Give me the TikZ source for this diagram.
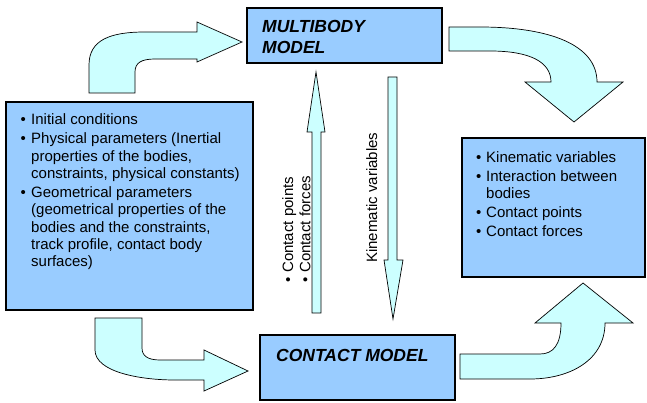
\documentclass[tikz,border=0pt]{standalone}
\usepackage{fontspec}
\setmainfont{Liberation Sans}
\definecolor{boxblue}{HTML}{99CCFF}
\definecolor{arrowcyan}{HTML}{CCFFFF}
\begin{document}
\begin{tikzpicture}[x=1pt,y=-1pt,
  box/.style={draw=black, line width=2.6pt, fill=boxblue, rectangle, inner sep=0pt, outer sep=0pt, anchor=north west},
  blockarrow/.style={draw=black, line width=0.7pt, fill=arrowcyan, line join=miter},
  bodytext/.style={inner sep=0pt, anchor=base west, font=\fontsize{15}{17.3}\selectfont},
  titletext/.style={inner sep=0pt, anchor=base west, font=\fontsize{17.5}{21}\selectfont\bfseries\itshape}]
\useasboundingbox (0,0) rectangle (647,403);

% block arrows
\draw[blockarrow] (89,93) -- (89,65) .. controls (89,40) and (110,32) .. (145,32) -- (197,32) -- (197,22) -- (242,42) -- (197,62) -- (197,59) -- (155,59) .. controls (141,59) and (135,63) .. (135,72) -- (135,93) -- cycle;
\draw[blockarrow] (449,27) -- (480,27) .. controls (550,27) and (597,45) .. (597,82) -- (623,82) -- (574,122) -- (525,82) -- (551,82) .. controls (551,62) and (530,51) .. (490,51) -- (449,51) -- cycle;
\draw[blockarrow] (95,318) -- (95,350) .. controls (95,372) and (140,380) .. (175,380) -- (204,380) -- (204,391) -- (248,371) -- (204,350) -- (204,360) -- (160,360) .. controls (148,360) and (142,356) .. (142,348) -- (142,318) -- cycle;
\draw[blockarrow] (460,354) -- (540,354) .. controls (553,354) and (561,345) .. (561,323) -- (535,323) -- (583,283) -- (633,323) -- (605,323) .. controls (605,360) and (570,379) .. (530,379) -- (460,379) -- cycle;
\draw[blockarrow] (312,313) -- (312,132) -- (307,132) -- (316,72) -- (325,132) -- (321,132) -- (321,313) -- cycle;
\draw[blockarrow] (388,77) -- (397,77) -- (397,260) -- (403,260) -- (393,319) -- (384,260) -- (388,260) -- cycle;

% boxes
\node[box, minimum width=195pt, minimum height=55pt] (mb) at (247,8) {};
\node[box, minimum width=247pt, minimum height=208pt] (init) at (6,102) {};
\node[box, minimum width=183pt, minimum height=139pt] (res) at (462,138) {};
\node[box, minimum width=195pt, minimum height=65pt] (cm) at (260,335) {};

% texts
\node[titletext] (mbtext) at (262,33) {\begin{tabular}[t]{@{}l@{}}MULTIBODY\\MODEL\end{tabular}};
\node[titletext] (cmtext) at (276,361) {CONTACT MODEL};

\node[bodytext] (inittext) at (20.5,125) {\begin{tabular}[t]{@{}p{10.5pt}@{}l@{}}
• & Initial conditions\\[1.7pt]
• & Physical parameters (Inertial\\
  & properties of the bodies,\\
  & constraints, physical constants)\\[1.7pt]
• & Geometrical parameters\\
  & (geometrical properties of the\\
  & bodies and the constraints,\\
  & track profile, contact body\\
  & surfaces)
\end{tabular}};

\node[bodytext] (restext) at (476,163) {\begin{tabular}[t]{@{}p{10pt}@{}l@{}}
• & Kinematic variables\\[1.3pt]
• & Interaction between\\
  & bodies\\[1.3pt]
• & Contact points\\[1.3pt]
• & Contact forces
\end{tabular}};

\node[bodytext, rotate=90] (cptext) at (293,283) {\begin{tabular}[t]{@{}p{10pt}@{}l@{}}
• & Contact points\\
• & Contact forces
\end{tabular}};
\node[bodytext, rotate=90] (kvtext) at (377,263) {Kinematic variables};
\end{tikzpicture}
\end{document}
